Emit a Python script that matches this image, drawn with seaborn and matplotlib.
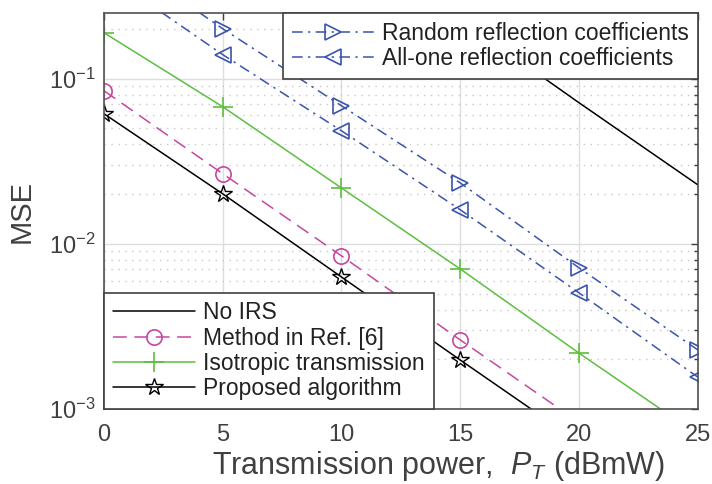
import numpy as np
import pandas as pd
import matplotlib
matplotlib.use("Agg")
import matplotlib.pyplot as plt
from matplotlib.ticker import LogLocator, NullFormatter, FixedLocator
import seaborn as sns

# transmission power (dBmW)
power = [0, 5, 10, 15, 20, 25]

# MSE values
mse_no_irs = [7.2, 2.3, 0.72, 0.23, 0.0716, 0.0228]
mse_ref6 = [0.0846, 0.0266, 0.00846, 0.00262, 0.00083, 0.00026]
mse_isotropic = [0.19, 0.0677, 0.0218, 0.00705, 0.00218, 0.0007]
mse_proposed = [0.0614, 0.0201, 0.0063, 0.00198, 0.00063, 0.0002]
mse_random = [0.63, 0.201, 0.0686, 0.0234, 0.00716, 0.00228]
mse_all_one = [0.44, 0.14, 0.0484, 0.0161, 0.00505, 0.00156]

labels_main = ["No IRS", "Method in Ref. [6]", "Isotropic transmission", "Proposed algorithm"]
labels_irs = ["Random reflection coefficients", "All-one reflection coefficients"]

sns.set_theme(style="white")
plt.rcParams["font.family"] = ["Liberation Sans", "DejaVu Sans"]
plt.rcParams["mathtext.fontset"] = "custom"
plt.rcParams["mathtext.rm"] = "Liberation Sans"
plt.rcParams["mathtext.it"] = "Liberation Sans:italic"

txt = "#404040"
blue = "#3a53ad"
magenta = "#c4489f"
green = "#5dbe3f"

fig = plt.figure(figsize=(7.12, 4.84), dpi=100)
ax = fig.add_axes([0.146, 0.155, 0.834, 0.818])

sns.lineplot(x=power, y=mse_no_irs, ax=ax, color="black", lw=1.1, label=labels_main[0])
sns.lineplot(x=power, y=mse_ref6, ax=ax, color=magenta, lw=1.1, dashes=False,
             linestyle=(0, (9, 5)), marker="o", markersize=11, markerfacecolor="none",
             markeredgecolor=magenta, markeredgewidth=1.2, label=labels_main[1])
sns.lineplot(x=power, y=mse_isotropic, ax=ax, color=green, lw=1.1, marker="+",
             markersize=15, markeredgewidth=1.2, markeredgecolor=green, label=labels_main[2])
sns.lineplot(x=power, y=mse_proposed, ax=ax, color="black", lw=1.1, marker="*",
             markersize=13, markerfacecolor="none", markeredgecolor="black",
             markeredgewidth=1.0, label=labels_main[3])
sns.lineplot(x=power, y=mse_random, ax=ax, color=blue, lw=1.1, dashes=False,
             linestyle=(0, (7, 3.5, 1.5, 3.5)), marker=">", markersize=12,
             markerfacecolor="none", markeredgecolor=blue, markeredgewidth=1.2,
             label=labels_irs[0])
sns.lineplot(x=power, y=mse_all_one, ax=ax, color=blue, lw=1.1, dashes=False,
             linestyle=(0, (7, 3.5, 1.5, 3.5)), marker="<", markersize=12,
             markerfacecolor="none", markeredgecolor=blue, markeredgewidth=1.2,
             label=labels_irs[1])

ax.set_yscale("log")
ax.set_xlim(0, 25)
ax.set_ylim(1e-3, 0.25)
ax.set_xticks([0, 5, 10, 15, 20, 25])
ax.yaxis.set_major_locator(FixedLocator([1e-3, 1e-2, 1e-1]))
ax.set_yticklabels([r"$\mathregular{10^{-3}}$", r"$\mathregular{10^{-2}}$", r"$\mathregular{10^{-1}}$"])
ax.yaxis.set_minor_locator(LogLocator(base=10, subs=np.arange(2, 10), numticks=20))
ax.yaxis.set_minor_formatter(NullFormatter())

ax.grid(True, which="major", color="#dedede", lw=1.0, ls="-")
ax.grid(True, which="minor", axis="y", color="#c8c8c8", lw=1.0, ls=(0, (1, 4)))
ax.set_axisbelow(True)

ax.tick_params(which="both", direction="in", top=True, right=True, colors=txt,
               labelsize=17, width=1.0)
ax.tick_params(which="major", length=5)
ax.tick_params(which="minor", length=3)
ax.tick_params(axis="x", which="major", pad=10.5)
ax.tick_params(axis="y", which="major", pad=6)
for s in ax.spines.values():
    s.set_color("#505050")
    s.set_linewidth(1.2)

ax.set_xlabel(r"Transmission power,  $P_T$ (dBmW)", fontsize=22, color=txt)
ax.xaxis.set_label_coords(0.563, -0.1, transform=ax.transAxes)
ax.xaxis.label.set_va("top")
ax.set_ylabel("MSE", fontsize=21, color=txt, labelpad=10)

handles, labs = ax.get_legend_handles_labels()
hmap = dict(zip(labs, handles))
leg_kw = dict(fontsize=16.5, frameon=True, fancybox=False, framealpha=1,
              borderaxespad=0, handlelength=3.6, handletextpad=0.35,
              labelspacing=0.1, borderpad=0.38, labelcolor="#222222")
leg1 = ax.legend([hmap[l] for l in labels_irs], labels_irs, loc="upper right", **leg_kw)
leg1.get_frame().set_edgecolor("#404040")
leg1.get_frame().set_linewidth(1.2)
ax.add_artist(leg1)
leg2 = ax.legend([hmap[l] for l in labels_main], labels_main, loc="lower left", **leg_kw)
leg2.get_frame().set_edgecolor("#404040")
leg2.get_frame().set_linewidth(1.2)

fig.savefig("out.png", dpi=100)
